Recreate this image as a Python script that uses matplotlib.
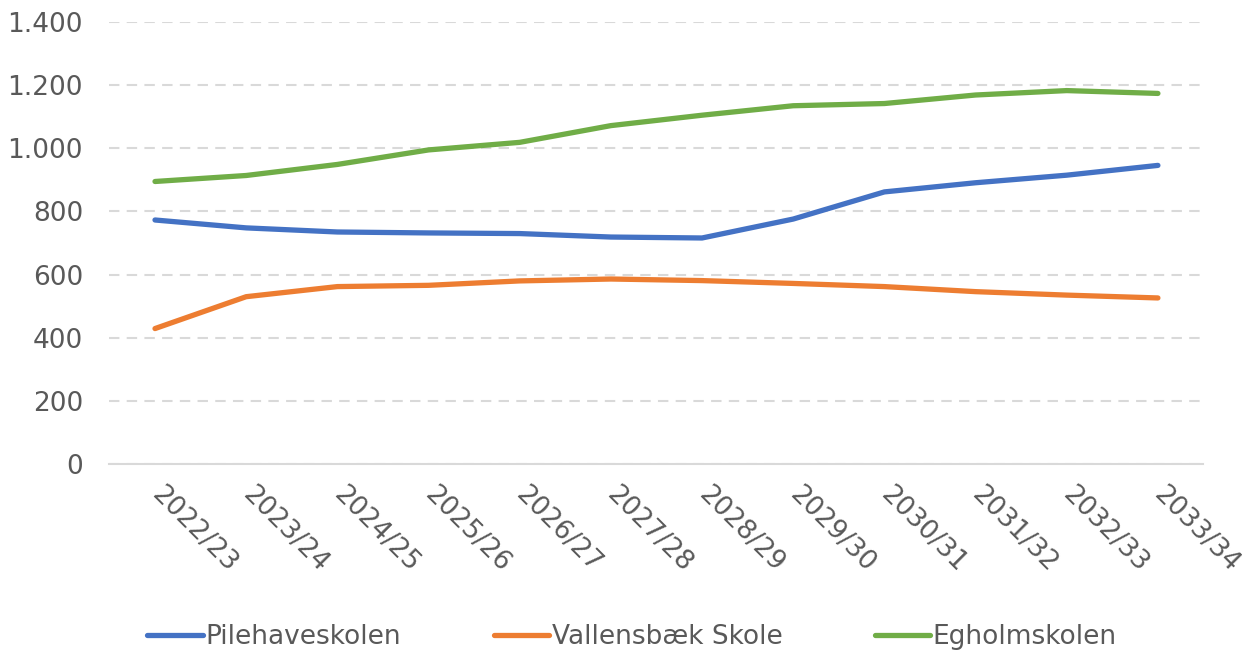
import matplotlib
matplotlib.use("Agg")
import matplotlib.pyplot as plt
from matplotlib.ticker import FuncFormatter

# school years on the x axis
years = ["2022/23", "2023/24", "2024/25", "2025/26", "2026/27", "2027/28",
         "2028/29", "2029/30", "2030/31", "2031/32", "2032/33", "2033/34"]

# pupils per school
pilehave = [773, 748, 735, 732, 730, 719, 716, 776, 862, 891, 915, 946]
vallensbaek = [429, 530, 562, 566, 580, 586, 581, 572, 562, 546, 535, 526]
egholm = [895, 914, 949, 995, 1019, 1072, 1105, 1135, 1142, 1169, 1183, 1174]

names = ["Pilehaveskolen", "Vallensbæk Skole", "Egholmskolen"]
colors = ["#4472C4", "#ED7D31", "#70AD47"]

plt.rcParams["font.family"] = ["DejaVu Sans"]
text_col = "#595959"
fs = 19

fig = plt.figure(figsize=(12.42, 6.5), dpi=100)
ax = fig.add_axes([0.0881, 0.2862, 0.969 - 0.0881, 0.966 - 0.2862])

x = list(range(len(years)))
for vals, name, c in zip([pilehave, vallensbaek, egholm], names, colors):
    ax.plot(x, vals, color=c, lw=3.8, label=name, solid_capstyle="round",
            solid_joinstyle="round", zorder=3)

ax.set_xlim(-0.5, len(years) - 0.5)
ax.set_ylim(0, 1400)
ax.set_yticks(range(0, 1401, 200))
ax.yaxis.set_major_formatter(FuncFormatter(lambda v, p: f"{int(v):,}".replace(",", ".")))
ax.grid(axis="y", color="#D9D9D9", lw=1.5, linestyle=(0, (5, 3.5)), zorder=0)
ax.set_axisbelow(True)

for s in ["top", "right", "left"]:
    ax.spines[s].set_visible(False)
ax.spines["bottom"].set_color("#D9D9D9")
ax.spines["bottom"].set_linewidth(1.5)

ax.tick_params(axis="y", length=0, pad=19, labelsize=fs, labelcolor=text_col)
ax.tick_params(axis="x", length=0, pad=19, labelsize=fs, labelcolor=text_col)
ax.set_xticks(x)
ax.set_xticklabels(years, rotation=-45, ha="left", va="center", rotation_mode="anchor")

fig.legend(loc="center", bbox_to_anchor=(0.509, 0.02), ncol=3, frameon=False,
           fontsize=fs, labelcolor=text_col, handlelength=2.1, handletextpad=0.1,
           columnspacing=3.5)

fig.savefig("out.png", dpi=100)
